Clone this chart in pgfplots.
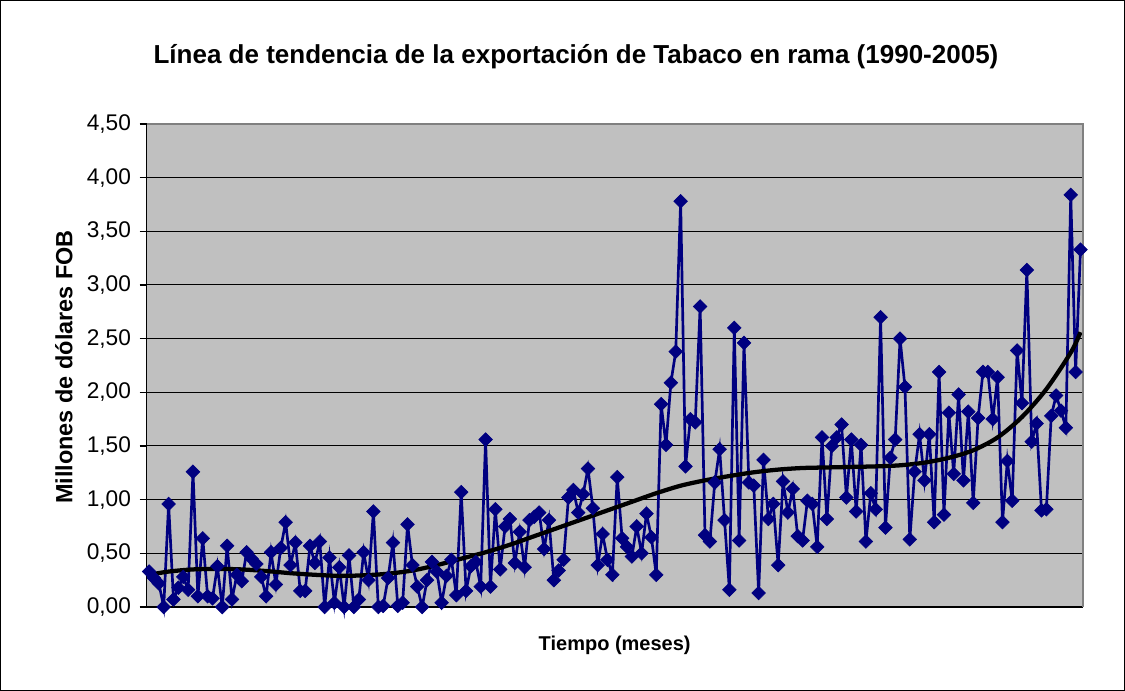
\documentclass[border=0pt]{standalone}
\usepackage{pgfplots}
\pgfplotsset{compat=1.18}
\usepackage{fontspec}
\setmainfont{Liberation Sans}
\definecolor{exnavy}{HTML}{000080}
\definecolor{exgray}{HTML}{C0C0C0}
\definecolor{exborder}{HTML}{808080}

\pgfplotstableread{
idx val
1 0.33
2 0.27
3 0.22
4 0.00
5 0.96
6 0.07
7 0.18
8 0.28
9 0.16
10 1.26
11 0.10
12 0.64
13 0.10
14 0.08
15 0.38
16 0.00
17 0.57
18 0.07
19 0.30
20 0.24
21 0.51
22 0.45
23 0.40
24 0.28
25 0.10
26 0.51
27 0.21
28 0.55
29 0.79
30 0.39
31 0.60
32 0.15
33 0.15
34 0.57
35 0.41
36 0.61
37 0.00
38 0.46
39 0.04
40 0.37
41 0.00
42 0.48
43 0.00
44 0.07
45 0.51
46 0.25
47 0.89
48 0.00
49 0.01
50 0.27
51 0.60
52 0.01
53 0.04
54 0.77
55 0.39
56 0.19
57 0.00
58 0.25
59 0.42
60 0.33
61 0.04
62 0.29
63 0.44
64 0.11
65 1.07
66 0.15
67 0.38
68 0.42
69 0.19
70 1.56
71 0.19
72 0.91
73 0.35
74 0.75
75 0.82
76 0.41
77 0.70
78 0.37
79 0.81
80 0.84
81 0.88
82 0.54
83 0.81
84 0.25
85 0.34
86 0.44
87 1.02
88 1.09
89 0.88
90 1.05
91 1.29
92 0.92
93 0.39
94 0.68
95 0.44
96 0.30
97 1.21
98 0.64
99 0.56
100 0.47
101 0.75
102 0.50
103 0.87
104 0.65
105 0.30
106 1.89
107 1.51
108 2.09
109 2.38
110 3.78
111 1.31
112 1.75
113 1.72
114 2.80
115 0.67
116 0.61
117 1.16
118 1.47
119 0.81
120 0.16
121 2.60
122 0.62
123 2.46
124 1.16
125 1.13
126 0.13
127 1.37
128 0.82
129 0.96
130 0.39
131 1.17
132 0.88
133 1.10
134 0.66
135 0.62
136 0.99
137 0.96
138 0.56
139 1.58
140 0.82
141 1.50
142 1.58
143 1.70
144 1.02
145 1.56
146 0.89
147 1.51
148 0.61
149 1.06
150 0.91
151 2.70
152 0.74
153 1.39
154 1.56
155 2.50
156 2.05
157 0.63
158 1.26
159 1.61
160 1.18
161 1.61
162 0.79
163 2.19
164 0.86
165 1.81
166 1.24
167 1.98
168 1.18
169 1.82
170 0.97
171 1.76
172 2.19
173 2.19
174 1.75
175 2.14
176 0.79
177 1.36
178 0.99
179 2.39
180 1.90
181 3.14
182 1.54
183 1.71
184 0.90
185 0.91
186 1.78
187 1.97
188 1.83
189 1.67
190 3.84
191 2.19
192 3.33
}\exportdata

\pgfplotstableread{
idx val
1 0.30
5 0.33
10 0.35
15 0.355
20 0.35
25 0.335
30 0.315
35 0.30
40 0.29
45 0.295
50 0.31
55 0.34
60 0.39
65 0.45
70 0.51
75 0.58
80 0.66
85 0.74
90 0.82
95 0.90
100 0.98
105 1.06
110 1.13
115 1.18
120 1.22
125 1.255
130 1.28
135 1.295
140 1.30
145 1.305
150 1.31
155 1.32
160 1.345
165 1.39
170 1.46
175 1.58
180 1.77
185 2.03
190 2.37
192 2.56
}\trenddata

\begin{document}
\begin{tikzpicture}
\useasboundingbox (-110.0pt,-63.0pt) rectangle (733.75pt,455.25pt);
\draw[black, line width=0.9pt] (-109.55pt,-62.55pt) rectangle (733.3pt,454.8pt);
\begin{axis}[
  at={(0pt,0pt)}, anchor=south west,
  scale only axis,
  width=702.2pt, height=362.25pt,
  xmin=0.5, xmax=192.5,
  ymin=0, ymax=4.5,
  ytick={0,0.5,...,4.5},
  xtick=\empty,
  minor xtick={0.5,1.5,...,192.5},
  axis lines*=left,
  axis line style={black, line width=0.9pt},
  tick align=outside,
  major tick length=5.25pt,
  minor tick length=2.2pt,
  minor x tick style={black, line width=0.5pt},
  ytick style={black, line width=0.9pt},
  axis background/.style={fill=exgray},
  ymajorgrids,
  grid style={black, line width=0.75pt},
  yticklabel={\pgfmathprintnumber[fixed,fixed zerofill,precision=2,use comma]{\tick}},
  /pgf/number format/assume math mode=true,
  tick label style={font=\fontsize{17}{19}\selectfont},
  yticklabel style={xshift=-3pt},
  clip=false,
]
\addplot[exnavy, line width=2pt, mark=square*, mark size=3.6pt,
  mark options={rotate=45, fill=exnavy, draw=exnavy, line width=0.5pt}]
  table[x=idx, y=val] {\exportdata};
\addplot[black, line width=3.2pt, smooth] table[x=idx, y=val] {\trenddata};
\draw[exborder, line width=1.2pt] (rel axis cs:0,1) -- (rel axis cs:1,1) -- (rel axis cs:1,0);
\end{axis}
\node[font=\bfseries\fontsize{19.5}{22}\selectfont] at (322pt,412.5pt)
  {Línea de tendencia de la exportación de Tabaco en rama (1990-2005)};
\node[font=\bfseries\fontsize{17.6}{20}\selectfont, rotate=90] at (-62pt,180pt)
  {Millones de dólares FOB};
\node[font=\bfseries\fontsize{15}{18}\selectfont] at (351pt,-28.5pt)
  {Tiempo (meses)};
\end{tikzpicture}
\end{document}
